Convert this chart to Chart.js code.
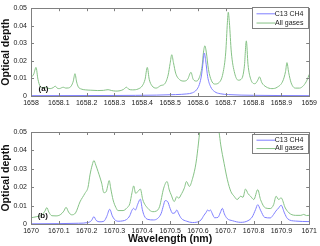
<!DOCTYPE html>
<html>
<head>
<meta charset="utf-8">
<script src="https://cdn.jsdelivr.net/npm/chart.js@4.4.1/dist/chart.umd.min.js"></script>
<style>
  html, body { margin: 0; padding: 0; background: #fff; }
  #wrap { position: relative; width: 320px; height: 246px; overflow: hidden; }
  .box { position: absolute; left: 0; width: 320px; }
</style>
</head>
<body>
<div id="wrap">
  <div class="box" style="top:0;height:116px"><canvas id="topChart"></canvas></div>
  <div class="box" style="top:116px;height:130px"><canvas id="botChart"></canvas></div>
</div>
<script>
// panel (a): 1658-1659 nm
const topAllX = [1658.000, 1658.010, 1658.018, 1658.025, 1658.033, 1658.042, 1658.051, 1658.060, 1658.069, 1658.080,
  1658.087, 1658.094, 1658.102, 1658.110, 1658.116, 1658.125, 1658.135, 1658.145, 1658.152, 1658.158,
  1658.164, 1658.170, 1658.180, 1658.195, 1658.215, 1658.240, 1658.260, 1658.277, 1658.290, 1658.305,
  1658.320, 1658.333, 1658.343, 1658.352, 1658.365, 1658.385, 1658.400, 1658.410, 1658.418, 1658.425,
  1658.435, 1658.450, 1658.467, 1658.480, 1658.493, 1658.500, 1658.506, 1658.512, 1658.520, 1658.535,
  1658.550, 1658.563, 1658.575, 1658.583, 1658.595, 1658.605, 1658.615, 1658.620, 1658.625, 1658.630,
  1658.638, 1658.648, 1658.660, 1658.675, 1658.690, 1658.700, 1658.706, 1658.709, 1658.713, 1658.720,
  1658.732, 1658.745, 1658.758, 1658.767, 1658.774, 1658.780, 1658.790, 1658.805, 1658.815, 1658.821,
  1658.830, 1658.845, 1658.866, 1658.885, 1658.905, 1658.915, 1658.920, 1658.926, 1658.935, 1658.950,
  1658.965, 1658.980, 1658.992, 1659.000];
const topAllY = [0.0105, 0.0125, 0.0163, 0.0095, 0.0055, 0.0048, 0.0050, 0.0044, 0.0042, 0.0048,
  0.0056, 0.0045, 0.0042, 0.0047, 0.0050, 0.0045, 0.0046, 0.0058, 0.0085, 0.0127,
  0.0080, 0.0052, 0.0040, 0.0035, 0.0033, 0.0031, 0.0032, 0.0036, 0.0031, 0.0028,
  0.0030, 0.0038, 0.0050, 0.0038, 0.0035, 0.0040, 0.0058, 0.0095, 0.0163, 0.0095,
  0.0058, 0.0045, 0.0060, 0.0068, 0.0120, 0.0185, 0.0235, 0.0190, 0.0130, 0.0092,
  0.0085, 0.0095, 0.0135, 0.0095, 0.0085, 0.0105, 0.0170, 0.0250, 0.0286, 0.0250,
  0.0150, 0.0090, 0.0068, 0.0075, 0.0130, 0.0250, 0.0420, 0.0477, 0.0420, 0.0250,
  0.0130, 0.0090, 0.0100, 0.0170, 0.0314, 0.0180, 0.0095, 0.0070, 0.0090, 0.0109,
  0.0075, 0.0052, 0.0042, 0.0050, 0.0085, 0.0140, 0.0190, 0.0135, 0.0075, 0.0045,
  0.0045, 0.0060, 0.0090, 0.0123];
const topC13X = [1658.000, 1658.300, 1658.450, 1658.520, 1658.560, 1658.580, 1658.595, 1658.605, 1658.613, 1658.619,
  1658.623, 1658.628, 1658.635, 1658.645, 1658.660, 1658.680, 1658.710, 1658.800, 1659.000];
const topC13Y = [0.0002, 0.0003, 0.0005, 0.0008, 0.0012, 0.0018, 0.0035, 0.0065, 0.0120, 0.0200,
  0.0245, 0.0200, 0.0110, 0.0055, 0.0025, 0.0013, 0.0008, 0.0004, 0.0002];

// panel (b): 1670-1671 nm
const botAllX = [1670.000, 1670.021, 1670.039, 1670.050, 1670.057, 1670.064, 1670.075, 1670.090, 1670.105, 1670.118,
  1670.126, 1670.135, 1670.146, 1670.160, 1670.176, 1670.194, 1670.205, 1670.212, 1670.220, 1670.226,
  1670.233, 1670.241, 1670.254, 1670.262, 1670.271, 1670.276, 1670.281, 1670.287, 1670.295, 1670.305,
  1670.313, 1670.331, 1670.345, 1670.355, 1670.363, 1670.369, 1670.376, 1670.384, 1670.393, 1670.402,
  1670.420, 1670.438, 1670.450, 1670.462, 1670.477, 1670.489, 1670.497, 1670.504, 1670.515, 1670.524,
  1670.531, 1670.539, 1670.551, 1670.559, 1670.569, 1670.581, 1670.593, 1670.602, 1670.610, 1670.625,
  1670.640, 1670.655, 1670.668, 1670.676, 1670.682, 1670.694, 1670.706, 1670.718, 1670.730, 1670.741,
  1670.754, 1670.762, 1670.771, 1670.780, 1670.789, 1670.801, 1670.815, 1670.825, 1670.843, 1670.860,
  1670.872, 1670.881, 1670.890, 1670.899, 1670.914, 1670.932, 1670.956, 1670.970, 1670.980, 1670.990,
  1671.000];
const botAllY = [0.0034, 0.0040, 0.0049, 0.0070, 0.0089, 0.0065, 0.0045, 0.0044, 0.0050, 0.0070,
  0.0091, 0.0065, 0.0050, 0.0060, 0.0120, 0.0167, 0.0200, 0.0267, 0.0320, 0.0345,
  0.0320, 0.0285, 0.0222, 0.0170, 0.0178, 0.0210, 0.0236, 0.0190, 0.0131, 0.0090,
  0.0073, 0.0073, 0.0088, 0.0110, 0.0170, 0.0207, 0.0167, 0.0176, 0.0190, 0.0131,
  0.0085, 0.0067, 0.0070, 0.0094, 0.0195, 0.0231, 0.0185, 0.0158, 0.0122, 0.0149,
  0.0140, 0.0158, 0.0195, 0.0231, 0.0204, 0.0249, 0.0331, 0.0440, 0.0560, 0.0800,
  0.1000, 0.0800, 0.0580, 0.0500, 0.0430, 0.0330, 0.0240, 0.0178, 0.0151, 0.0133,
  0.0151, 0.0145, 0.0190, 0.0165, 0.0151, 0.0133, 0.0187, 0.0133, 0.0087, 0.0084,
  0.0105, 0.0151, 0.0133, 0.0142, 0.0087, 0.0055, 0.0047, 0.0047, 0.0052, 0.0046,
  0.0047];
const botC13X = [1670.000, 1670.100, 1670.170, 1670.205, 1670.218, 1670.226, 1670.234, 1670.248, 1670.262, 1670.272,
  1670.283, 1670.292, 1670.300, 1670.313, 1670.330, 1670.343, 1670.355, 1670.363, 1670.369, 1670.375,
  1670.384, 1670.393, 1670.400, 1670.407, 1670.420, 1670.440, 1670.455, 1670.468, 1670.476, 1670.482,
  1670.491, 1670.500, 1670.509, 1670.518, 1670.524, 1670.531, 1670.540, 1670.560, 1670.580, 1670.596,
  1670.611, 1670.622, 1670.629, 1670.635, 1670.640, 1670.645, 1670.652, 1670.660, 1670.672, 1670.680,
  1670.688, 1670.695, 1670.705, 1670.724, 1670.754, 1670.780, 1670.795, 1670.807, 1670.815, 1670.825,
  1670.840, 1670.860, 1670.872, 1670.880, 1670.890, 1670.899, 1670.911, 1670.922, 1670.950, 1671.000];
const botC13Y = [0.0001, 0.0002, 0.0004, 0.0008, 0.0020, 0.0040, 0.0020, 0.0012, 0.0015, 0.0040,
  0.0080, 0.0045, 0.0025, 0.0015, 0.0017, 0.0024, 0.0045, 0.0075, 0.0085, 0.0076,
  0.0109, 0.0135, 0.0080, 0.0045, 0.0025, 0.0022, 0.0030, 0.0058, 0.0100, 0.0127,
  0.0122, 0.0085, 0.0058, 0.0062, 0.0076, 0.0055, 0.0031, 0.0015, 0.0008, 0.0010,
  0.0022, 0.0048, 0.0062, 0.0076, 0.0070, 0.0076, 0.0055, 0.0034, 0.0036, 0.0060,
  0.0085, 0.0055, 0.0030, 0.0018, 0.0009, 0.0018, 0.0038, 0.0078, 0.0105, 0.0075,
  0.0036, 0.0033, 0.0052, 0.0070, 0.0087, 0.0102, 0.0060, 0.0029, 0.0016, 0.0013];

const yTicks = [0, 0.01, 0.02, 0.03, 0.04, 0.05];
const topXTicks = [1658, 1658.1, 1658.2, 1658.3, 1658.4, 1658.5, 1658.6, 1658.7, 1658.8, 1658.9, 1659];
const botXTicks = [1670, 1670.1, 1670.2, 1670.3, 1670.4, 1670.5, 1670.6, 1670.7, 1670.8, 1670.9, 1671];
const seriesNames = ["C13 CH4", "All gases"];

const BLUE = "#7f7fff";
const GREEN = "#86c286";
const FONT = "'Liberation Sans', Arial, sans-serif";

function pairs(xs, ys) {
  return xs.map((x, i) => ({ x: x, y: ys[i] }));
}

// box, inward ticks, panel tag and legend, MATLAB style
const framePlugin = {
  id: "frame",
  afterDatasetsDraw(chart, args, opts) {
    const ctx = chart.ctx;
    const a = chart.chartArea;
    const xs = chart.scales.x;
    const ys = chart.scales.y;
    ctx.save();
    ctx.strokeStyle = "#808080";
    ctx.lineWidth = 1;
    ctx.beginPath();
    xs.ticks.forEach((t) => {
      const px = Math.round(xs.getPixelForValue(t.value)) + 0.5;
      ctx.moveTo(px, a.bottom); ctx.lineTo(px, a.bottom - 3);
      ctx.moveTo(px, a.top); ctx.lineTo(px, a.top + 3);
    });
    ys.ticks.forEach((t) => {
      const py = Math.round(ys.getPixelForValue(t.value)) + 0.5;
      ctx.moveTo(a.left, py); ctx.lineTo(a.left + 3, py);
      ctx.moveTo(a.right, py); ctx.lineTo(a.right - 3, py);
    });
    ctx.stroke();
    ctx.strokeRect(Math.round(a.left) + 0.5, Math.round(a.top) + 0.5,
      Math.round(a.right - a.left), Math.round(a.bottom - a.top));

    // panel tag
    ctx.fillStyle = "#111";
    ctx.font = "bold 8px " + FONT;
    ctx.textBaseline = "middle";
    ctx.textAlign = "left";
    ctx.fillText(opts.tag, xs.getPixelForValue(opts.tagX), ys.getPixelForValue(opts.tagY));

    // legend
    const lx = Math.round(a.right) - 56.5, ly = Math.round(a.top) + opts.legTop + 0.5;
    ctx.fillStyle = "#fff";
    ctx.fillRect(lx, ly, 56, opts.legH);
    ctx.strokeStyle = "#808080";
    ctx.strokeRect(lx, ly, 56, opts.legH);
    ctx.font = "7px " + FONT;
    ctx.textAlign = "right";
    [BLUE, GREEN].forEach((c, i) => {
      const yy = ly + opts.legH * (i === 0 ? 0.3 : 0.74);
      ctx.strokeStyle = c;
      ctx.beginPath();
      ctx.moveTo(lx + 4, yy); ctx.lineTo(lx + 23, yy);
      ctx.stroke();
      ctx.fillStyle = "#222";
      ctx.fillText(seriesNames[i], lx + 51, yy);
    });
    ctx.restore();
  },
};

function makeChart(id, allX, allY, c13X, c13Y, xTicks, cfg) {
  return new Chart(document.getElementById(id), {
    type: "scatter",
    data: {
      datasets: [
        { label: seriesNames[0], data: pairs(c13X, c13Y), borderColor: BLUE },
        { label: seriesNames[1], data: pairs(allX, allY), borderColor: GREEN },
      ].map((d) => Object.assign(d, {
        showLine: true, pointRadius: 0, borderWidth: 1, cubicInterpolationMode: "monotone",
      })),
    },
    options: {
      responsive: true,
      maintainAspectRatio: false,
      animation: false,
      events: [],
      layout: { padding: cfg.padding },
      plugins: {
        legend: { display: false },
        tooltip: { enabled: false },
        frame: cfg.frame,
      },
      scales: {
        x: {
          type: "linear",
          min: xTicks[0],
          max: xTicks[xTicks.length - 1],
          afterBuildTicks: (s) => { s.ticks = xTicks.map((v) => ({ value: v })); },
          afterFit: (s) => { s.height = cfg.xHeight; },
          grid: { display: false, drawTicks: false },
          border: { display: false },
          ticks: {
            padding: 3,
            maxRotation: 0,
            autoSkip: false,
            color: "#222",
            font: { family: FONT, size: 7 },
            callback: (v) => String(+v.toFixed(1)),
          },
          title: {
            display: cfg.xTitle,
            text: "Wavelength (nm)",
            color: "#111",
            padding: { top: 0, bottom: 1 },
            font: { family: FONT, size: 10.5, weight: "bold" },
          },
        },
        y: {
          min: 0,
          max: 0.05,
          afterBuildTicks: (s) => { s.ticks = yTicks.map((v) => ({ value: v })); },
          afterFit: (s) => { s.width = 31; },
          grid: { display: false, drawTicks: false },
          border: { display: false },
          ticks: {
            padding: 4,
            color: "#222",
            font: { family: FONT, size: 7 },
            callback: (v) => String(+v.toFixed(2)),
          },
          title: {
            display: true,
            text: "Optical depth",
            color: "#111",
            padding: { top: 0, bottom: 1 },
            font: { family: FONT, size: 10.5, weight: "bold" },
          },
        },
      },
    },
    plugins: [framePlugin],
  });
}

makeChart("topChart", topAllX, topAllY, topC13X, topC13Y, topXTicks, {
  padding: { top: 1, right: 9, left: 0, bottom: 0 },
  xHeight: 20,
  xTitle: false,
  frame: { tag: "(a)", tagX: 1658.027, tagY: 0.0043, legTop: -1, legH: 21 },
});

makeChart("botChart", botAllX, botAllY, botC13X, botC13Y, botXTicks, {
  padding: { top: 16, right: 9, left: 0, bottom: 0 },
  xHeight: 22,
  xTitle: true,
  frame: { tag: "(b)", tagX: 1670.024, tagY: 0.0045, legTop: 2, legH: 19 },
});
</script>
</body>
</html>
